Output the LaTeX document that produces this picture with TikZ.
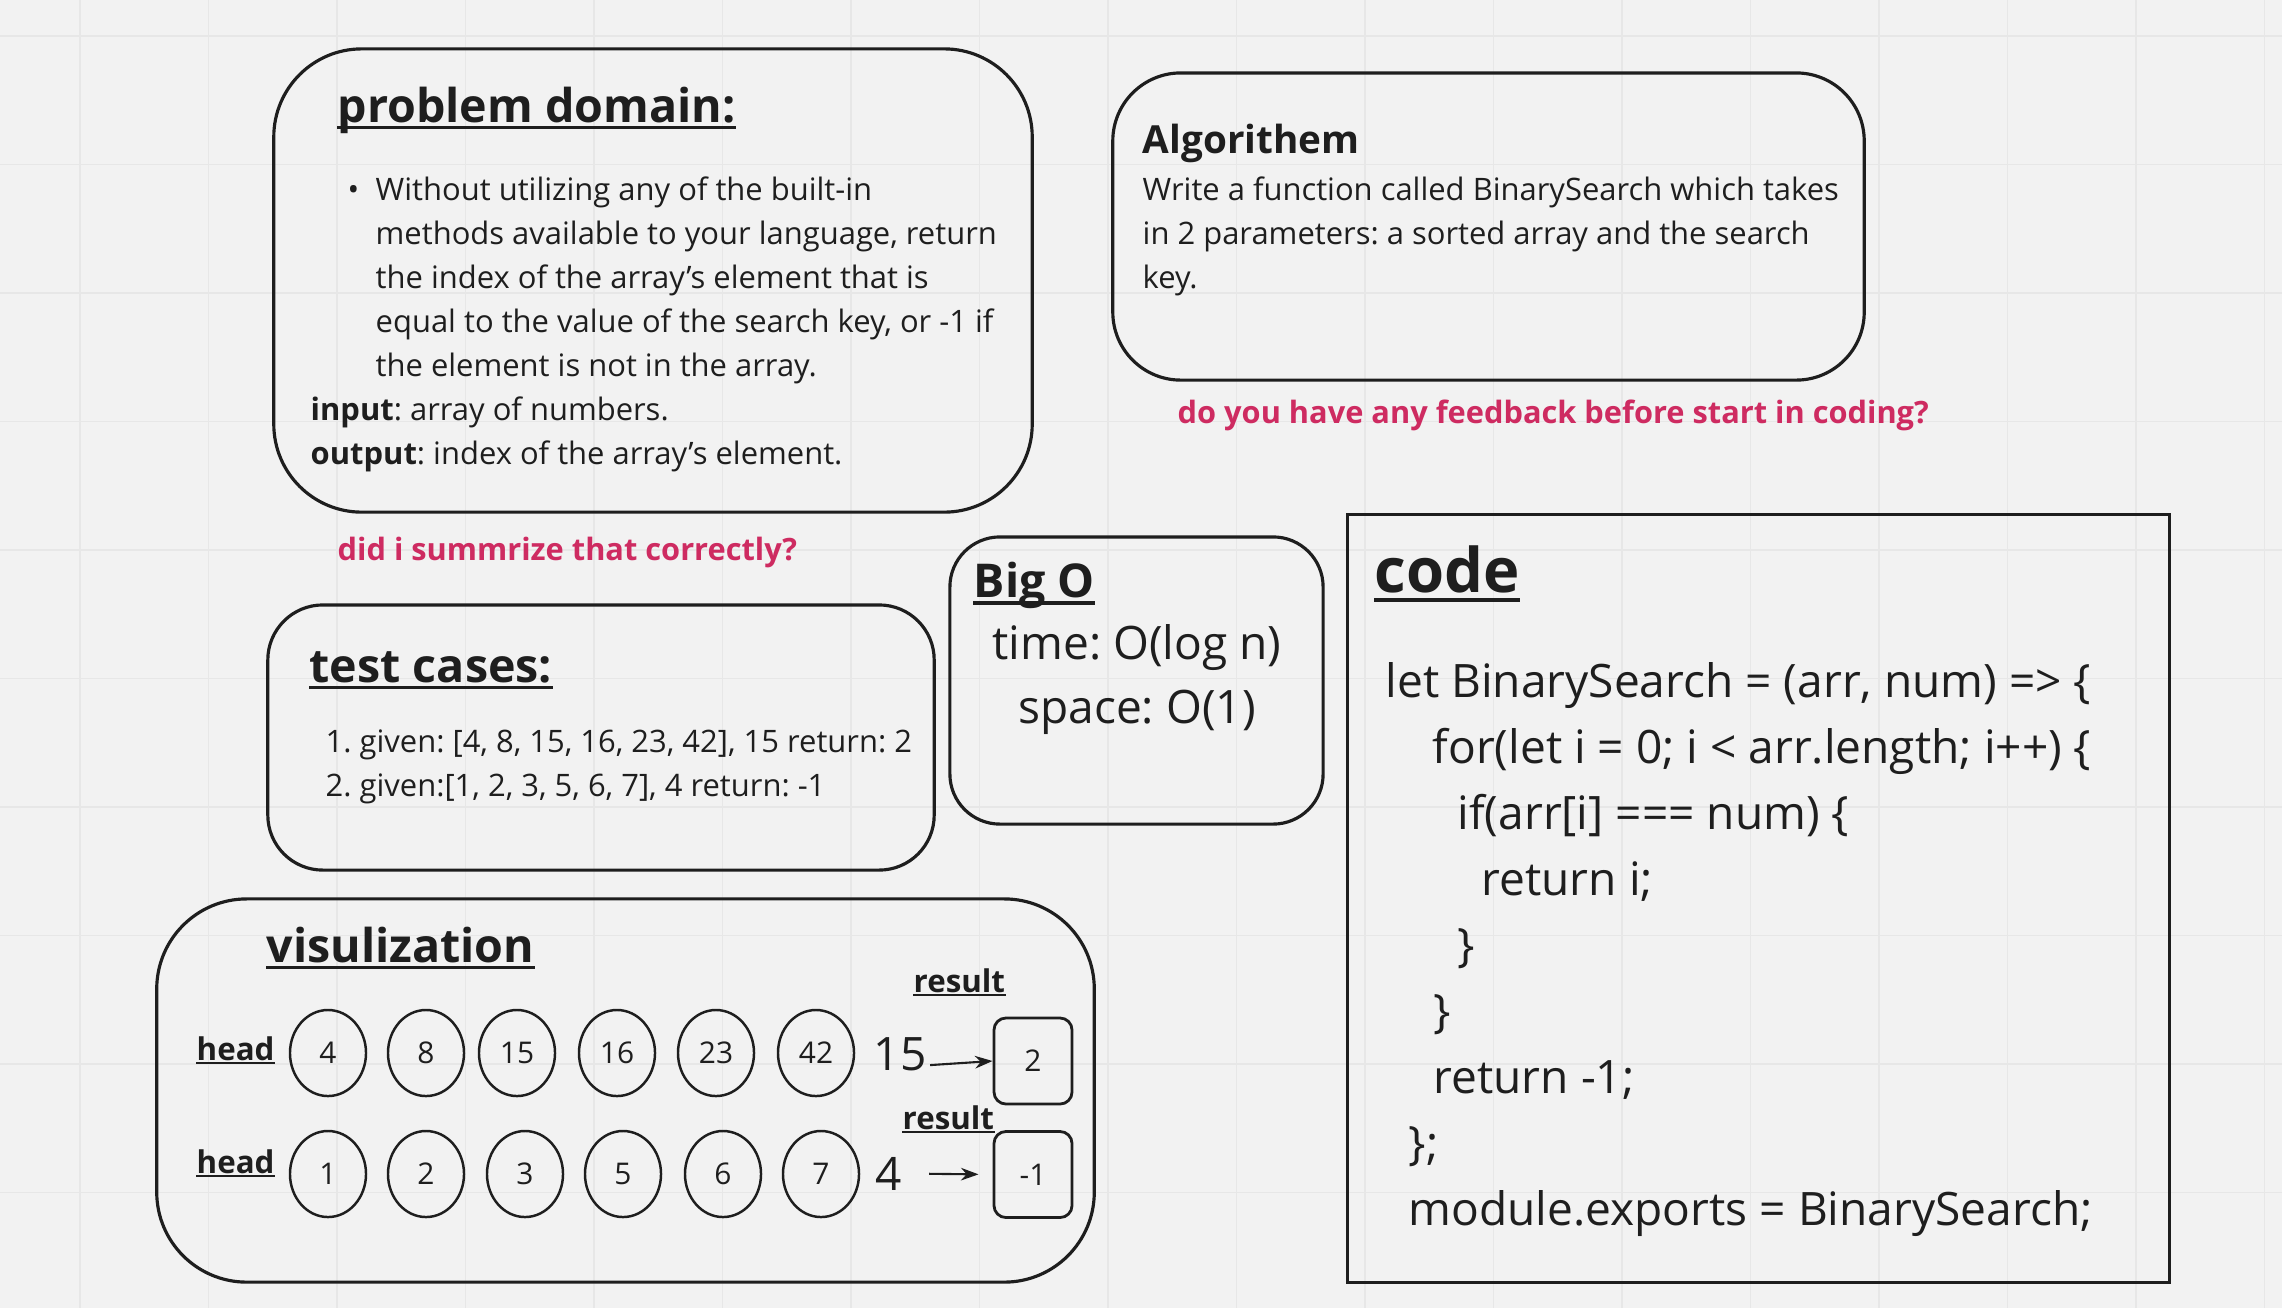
\documentclass[tikz,border=0pt]{standalone}
\usepackage{fontspec}
\setmainfont{Open Sans}
\frenchspacing
\usetikzlibrary{arrows.meta,positioning,shapes.geometric}
\definecolor{ink}{HTML}{1E1E1E}
\definecolor{board}{HTML}{F2F2F2}
\definecolor{gridgray}{HTML}{E7E7E7}
\definecolor{berry}{HTML}{CE2B61}

\tikzset{
  panel/.style={draw=ink, line width=0.9pt, rounded corners=#1, inner sep=0pt},
  panel/.default=0.6cm,
  txt/.style={anchor=base west, inner sep=0pt, text=ink, font=\fontsize{8.8}{12.5}\selectfont},
  ttl/.style={txt, font=\bfseries\fontsize{13.25}{16}\selectfont},
  bigtxt/.style={txt, font=\fontsize{13.1}{18}\selectfont},
  ask/.style={txt, text=berry, font=\bfseries\fontsize{8.75}{11}\selectfont},
  tag/.style={txt, font=\bfseries\fontsize{8.9}{11}\selectfont},
  cell/.style={ellipse, draw=ink, line width=0.7pt, minimum width=0.76cm, minimum height=0.86cm,
    inner sep=0pt, text=ink, font=\fontsize{8.5}{10}\selectfont},
  resbox/.style={draw=ink, line width=0.8pt, rounded corners=0.12cm, minimum width=0.78cm,
    minimum height=0.86cm, inner sep=0pt, text=ink, font=\fontsize{8.5}{10}\selectfont},
  arr/.style={draw=ink, line width=0.6pt, -{Stealth[length=5pt,width=3.6pt]}},
  uline/.style={draw=ink, line width=0.95pt},
  uthin/.style={draw=ink, line width=0.6pt},
  gridline/.style={draw=gridgray, line width=0.5pt}
}
% line under a text node: style, drop below baseline, node
\newcommand{\rulebelow}[3]{\draw[#1] ([yshift=-#2]#3.base west) -- ([yshift=-#2]#3.base east);}

\begin{document}
\begin{tikzpicture}[x=0.01cm, y=-0.01cm]
  \fill[board] (0,0) rectangle (2282,1308);
  \useasboundingbox (0,0) rectangle (2282,1308);
  % board grid
  \foreach \k in {0,...,17}
    \draw[gridline] ({80+128.5*\k},0) -- ++(0,1308);
  \foreach \k in {0,...,9}
    \draw[gridline] (0,{36+128.5*\k}) -- ++(2282,0);

  % problem domain
  \node[panel=0.88cm, minimum width=7.58cm, minimum height=4.63cm] (pdbox) at (653,280.5) {};
  \node[ttl] (pdtitle) at (337,122) {problem domain:};
  \rulebelow{uline}{1.5pt}{pdtitle}
  \node[txt] (pdbullet) at (347,200) {•};
  \foreach \cl [count=\i] in {Without utilizing any of the built-in,
      {methods available to your language, return},
      the index of the array’s element that is,
      {equal to the value of the search key, or -1 if},
      the element is not in the array.}
    \node[txt] (pd\i) at (375,{200+44*(\i-1)}) {\cl};
  \node[txt] (pdin) at (310,420) {\textbf{input}: array of numbers.};
  \node[txt] (pdout) at (310,464) {\textbf{output}: index of the array’s element.};
  \node[ask] (askpd) at (337,560) {did i summrize that correctly?};

  % algorithm
  \node[panel=0.68cm, minimum width=7.51cm, minimum height=3.07cm] (algbox) at (1488.5,226.5) {};
  \node[txt, font=\bfseries\fontsize{11}{14}\selectfont] (algtitle) at (1142,153) {Algorithem};
  \node[txt] (alg1) at (1142,200) {Write a function called BinarySearch which takes};
  \node[txt] (alg2) at (1142,244) {in 2 parameters: a sorted array and the search};
  \node[txt] (alg3) at (1142,288) {key.};
  \node[ask] (askalg) at (1177,423) {do you have any feedback before start in coding?};

  % test cases
  \node[panel=0.55cm, minimum width=6.66cm, minimum height=2.65cm] (tcbox) at (601,737.5) {};
  \node[ttl] (tctitle) at (309,682) {test cases:};
  \rulebelow{uline}{1.5pt}{tctitle}
  \node[txt] (tc1) at (325,752) {1. given: [4, 8, 15, 16, 23, 42], 15 return: 2};
  \node[txt] (tc2) at (325,796) {2. given:[1, 2, 3, 5, 6, 7], 4 return: -1};

  % big o
  \node[panel=0.5cm, minimum width=3.73cm, minimum height=2.87cm] (bigobox) at (1136.5,680.5) {};
  \node[ttl] (bigotitle) at (973,597) {Big O};
  \rulebelow{uline}{1.7pt}{bigotitle}
  \node[bigtxt, anchor=base] (bigotime) at (1137,659) {time: O(log n)};
  \node[bigtxt, anchor=base] (bigospace) at (1137,723) {space: O(1)};

  % code
  \node[draw=ink, line width=0.9pt, minimum width=8.21cm, minimum height=7.67cm] (codebox) at (1758.5,898.5) {};
  \node[txt, font=\bfseries\fontsize{17.5}{21}\selectfont] (codetitle) at (1374,592) {code};
  \rulebelow{uline, line width=1.1pt}{2.2pt}{codetitle}
  \foreach \x/\cl [count=\i] in {1385/{let BinarySearch = (arr, num) => \{},
      1432/{for(let i = 0; i < arr.length; i++) \{},
      1457/{if(arr[i] === num) \{},
      1481/{return i;},
      1457/{\}},
      1433/{\}},
      1433/{return -1;},
      1408/{\};},
      1408/{module.exports = BinarySearch;}}
    \node[bigtxt] (code\i) at (\x,{697+66*(\i-1)}) {\cl};

  % visualization
  \node[panel=0.9cm, minimum width=9.37cm, minimum height=3.83cm] (visbox) at (625.5,1090.5) {};
  \node[ttl] (vistitle) at (266,962) {visulization};
  \rulebelow{uline}{1.5pt}{vistitle}
  \node[tag] (head1) at (196,1060) {head};
  \rulebelow{uthin}{0.9pt}{head1}
  \node[tag] (head2) at (196,1173) {head};
  \rulebelow{uthin}{0.9pt}{head2}
  \foreach \v/\x [count=\i] in {4/328,8/426,15/517,16/617,23/716,42/816}
    \node[cell] (a\i) at (\x,1053) {\v};
  \foreach \v/\x [count=\i] in {1/328,2/426,3/525,5/623,6/723,7/821}
    \node[cell] (b\i) at (\x,1174) {\v};

  \node[tag] (res1) at (913,992) {result};
  \rulebelow{uthin}{0.9pt}{res1}
  \node[tag] (res2) at (902,1129) {result};
  \rulebelow{uthin}{0.9pt}{res2}
  \node[resbox] (r1) at (1033,1061) {2};
  \node[resbox] (r2) at (1033,1174.5) {-1};
  \node[bigtxt] (n15) at (873,1070) {15};
  \node[bigtxt] (n4) at (875,1190) {4};
  \draw[arr] ([xshift=0.03cm,yshift=1.4pt]n15.base east) -- (r1.west);
  \draw[arr, shorten <=7.5pt, shorten >=4pt] (n4.east) -- (r2.west);
\end{tikzpicture}
\end{document}
